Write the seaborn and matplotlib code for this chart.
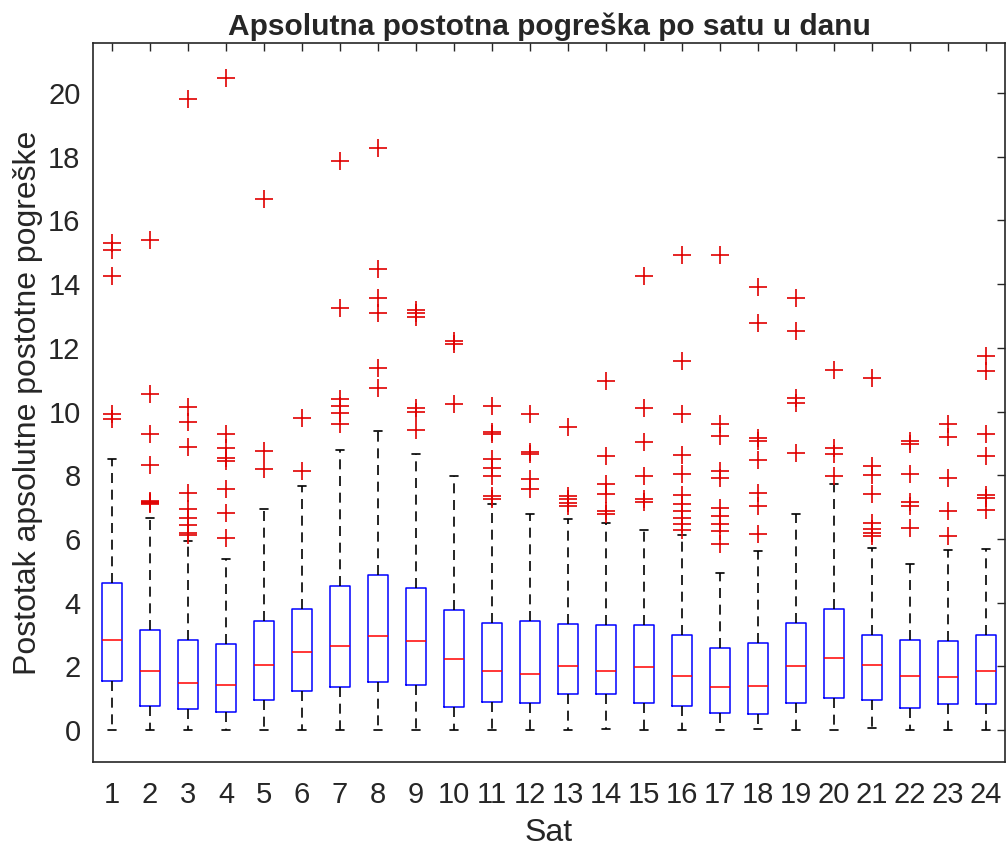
import matplotlib
matplotlib.use("Agg")
import matplotlib.pyplot as plt
import seaborn as sns
import pandas as pd

# box statistics per hour
hours = list(range(1, 25))
q1 = [1.54, 0.75, 0.65, 0.58, 0.96, 1.22, 1.35, 1.52, 1.41, 0.73, 0.89, 0.86,
      1.12, 1.12, 0.86, 0.75, 0.54, 0.52, 0.84, 1.01, 0.96, 0.68, 0.83, 0.81]
med = [2.82, 1.85, 1.49, 1.43, 2.06, 2.45, 2.64, 2.95, 2.79, 2.22, 1.85, 1.75,
       2.01, 1.87, 1.98, 1.70, 1.35, 1.38, 2.01, 2.25, 2.04, 1.70, 1.66, 1.85]
q3 = [4.62, 3.13, 2.82, 2.69, 3.44, 3.79, 4.52, 4.87, 4.45, 3.76, 3.37, 3.44,
      3.32, 3.30, 3.29, 3.00, 2.58, 2.74, 3.35, 3.79, 3.00, 2.82, 2.79, 3.00]
whis_lo = [0.0, 0.0, 0.0, 0.0, 0.0, 0.0, 0.0, 0.0, 0.0, 0.0, 0.0, 0.0,
           0.0, 0.05, 0.0, 0.0, 0.0, 0.05, 0.0, 0.0, 0.07, 0.0, 0.0, 0.0]
whis_hi = [8.5, 6.67, 5.95, 5.36, 6.93, 7.66, 8.78, 9.39, 8.68, 7.97, 7.09, 6.79,
           6.63, 6.51, 6.27, 6.14, 4.94, 5.62, 6.79, 7.71, 5.72, 5.23, 5.64, 5.70]
outliers = [
    [15.3, 15.07, 14.25, 9.91, 9.75],
    [15.37, 10.56, 9.28, 8.31, 7.2, 7.17, 7.14, 7.11],
    [19.8, 10.14, 9.68, 8.89, 7.45, 6.93, 6.67, 6.44, 6.18, 6.14],
    [20.48, 9.28, 8.84, 8.53, 8.45, 7.56, 6.82, 6.04],
    [16.68, 8.76, 8.2],
    [9.79, 8.13],
    [17.86, 13.26, 10.38, 10.17, 9.96, 9.6],
    [18.28, 14.46, 13.57, 13.1, 11.38, 10.75],
    [13.2, 13.1, 12.97, 10.1, 9.99, 9.41],
    [12.21, 12.13, 10.23],
    [10.17, 9.36, 9.30, 8.5, 8.24, 7.97, 7.35, 7.24],
    [9.91, 8.73, 8.66, 7.87, 7.56],
    [9.51, 7.35, 7.24, 7.14, 7.03],
    [10.96, 8.6, 7.71, 7.4, 6.88, 6.77],
    [14.25, 10.12, 9.04, 7.97, 7.24, 7.17],
    [14.91, 11.59, 9.91, 8.62, 8.05, 7.38, 7.09, 6.88, 6.67, 6.46, 6.27],
    [14.91, 9.6, 9.23, 8.13, 7.92, 6.98, 6.72, 6.48, 6.25, 5.85],
    [13.91, 12.79, 9.18, 9.07, 8.47, 7.45, 7.03, 6.16],
    [13.57, 12.53, 10.43, 10.28, 8.71],
    [11.29, 8.86, 8.68, 7.97],
    [11.04, 8.29, 8.0, 7.4, 6.51, 6.3, 6.2, 6.09],
    [9.07, 8.99, 8.03, 7.16, 7.05, 6.35],
    [9.62, 9.2, 7.92, 6.88, 6.09],
    [11.74, 11.27, 9.28, 8.6, 7.38, 7.29, 6.9],
]

sns.set_style("white")
plt.rcParams['font.family'] = ['Liberation Sans', 'DejaVu Sans']

fig = plt.figure(figsize=(10.07, 8.52), dpi=100)
ax = fig.add_axes([0.0924, 0.1056, 0.9056, 0.8434])

stats = []
for i, h in enumerate(hours):
    stats.append(dict(med=med[i], q1=q1[i], q3=q3[i], whislo=whis_lo[i],
                      whishi=whis_hi[i], fliers=[], label=str(h)))

ax.bxp(stats, positions=hours, widths=0.52, capwidths=0.22, showfliers=False,
       boxprops=dict(color='#0000ff', linewidth=1.1),
       medianprops=dict(color='#ff0000', linewidth=1.1),
       whiskerprops=dict(color='black', linewidth=1.2, linestyle=(0, (6, 4))),
       capprops=dict(color='black', linewidth=1.2))

# outliers as red plus markers
out_df = pd.DataFrame({
    'Sat': [h for h, vals in zip(hours, outliers) for _ in vals],
    'val': [v for vals in outliers for v in vals],
})
sns.scatterplot(data=out_df, x='Sat', y='val', marker='+', color='#e00000',
                s=180, linewidth=1.2, ax=ax, zorder=3, legend=False)

ax.set_xlim(0.5, 24.5)
ax.set_ylim(-1, 21.55)
ax.set_xticks(hours)
ax.set_xticklabels([str(h) for h in hours])
ax.set_yticks(range(0, 21, 2))

ax.tick_params(direction='in', top=True, right=True, length=6, width=1.0,
               labelsize=21, colors='#262626')
ax.tick_params(axis='x', pad=14)
ax.tick_params(axis='y', pad=9)
for sp in ax.spines.values():
    sp.set_color('#262626')
    sp.set_linewidth(1.2)

ax.set_title('Apsolutna postotna pogreška po satu u danu', fontsize=21.5,
             fontweight='bold', pad=6)
ax.set_xlabel('Sat', fontsize=23, color='#262626', labelpad=6)
ax.set_ylabel('Postotak apsolutne postotne pogreške', fontsize=23,
              color='#262626', labelpad=4)

fig.savefig('out.png', dpi=100)
